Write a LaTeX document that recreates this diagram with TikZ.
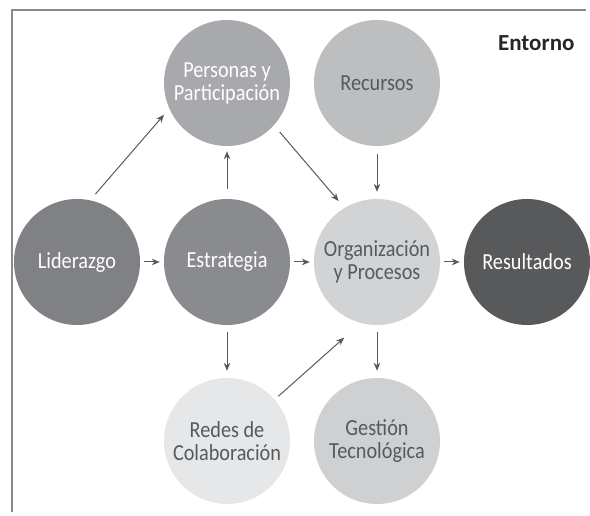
\documentclass[tikz,border=0pt]{standalone}
\usepackage{fontspec}
\setmainfont{Carlito}[FakeStretch=0.88]
\newfontfamily\headfont{Carlito}
\usepackage{tikz}
\usetikzlibrary{arrows.meta, positioning}

\definecolor{framegray}{HTML}{8A8B8D}
\definecolor{linegray}{HTML}{58595B}
\definecolor{txtgray}{HTML}{58595B}
\definecolor{lidfill}{HTML}{808184}
\definecolor{estfill}{HTML}{8A8B8E}
\definecolor{perfill}{HTML}{A7A9AC}
\definecolor{recfill}{HTML}{BCBEC0}
\definecolor{orgfill}{HTML}{D1D3D4}
\definecolor{resfill}{HTML}{58595B}
\definecolor{redfill}{HTML}{E6E7E8}
\definecolor{gesfill}{HTML}{CFD0D2}

\tikzset{
  bubble/.style={circle, minimum size=126pt, inner sep=0pt, align=center,
    font=\fontsize{23}{23}\selectfont},
  darkbub/.style={bubble, fill=#1, text=white},
  lightbub/.style={bubble, fill=#1, text=txtgray},
  conn/.style={color=linegray, line width=1pt}
}

\begin{document}
\begin{tikzpicture}[x=1pt, y=1pt, >={Stealth[length=8pt,width=6.5pt]},
    shorten >=4pt, shorten <=4pt, node distance=150pt]

  \useasboundingbox (0,0) rectangle (590,-516);
  \draw[framegray, line width=1.2pt] (12,-516) -- (12,-10) -- (590,-10);

  \node[anchor=base east, font=\headfont\bfseries\fontsize{23}{24}\selectfont,
    text=black!85] (env) at (578,-51) {Entorno};

  \node[darkbub=lidfill] (lid) at (77,-262) {Liderazgo};
  \node[darkbub=estfill] (est) [right of=lid] {Estrategia};
  \node[lightbub=orgfill] (org) [right of=est] {Organización\\y Procesos};
  \node[darkbub=resfill] (res) [right of=org] {Resultados};
  \node[darkbub=perfill] (per) [above of=est, node distance=179pt] {Personas y\\Participación};
  \node[lightbub=recfill] (rec) [above of=org, node distance=179pt] {Recursos};
  \node[lightbub=redfill] (redes) [below of=est, node distance=179pt] {Redes de\\Colaboración};
  \node[lightbub=gesfill] (ges) [below of=org, node distance=179pt] {Gestión\\Tecnológica};

  \path[->, conn]
  (lid) edge (est)
  (est) edge (org)
  (org) edge (res)

  (lid.78) edge [shorten <=8pt, shorten >=8pt] (per.204)
  (est) edge [shorten <=10pt, shorten >=5pt] (per)
  (per.-42) edge [shorten <=9pt, shorten >=9pt] (org.121)
  (rec) edge [shorten <=8pt, shorten >=7pt] (org)

  (est) edge [shorten <=7pt, shorten >=7pt] (redes)
  (redes.41) edge [shorten <=5pt, shorten >=22pt] (org.255)
  (org) edge [shorten <=7pt, shorten >=7pt] (ges)
  ;
\end{tikzpicture}
\end{document}
